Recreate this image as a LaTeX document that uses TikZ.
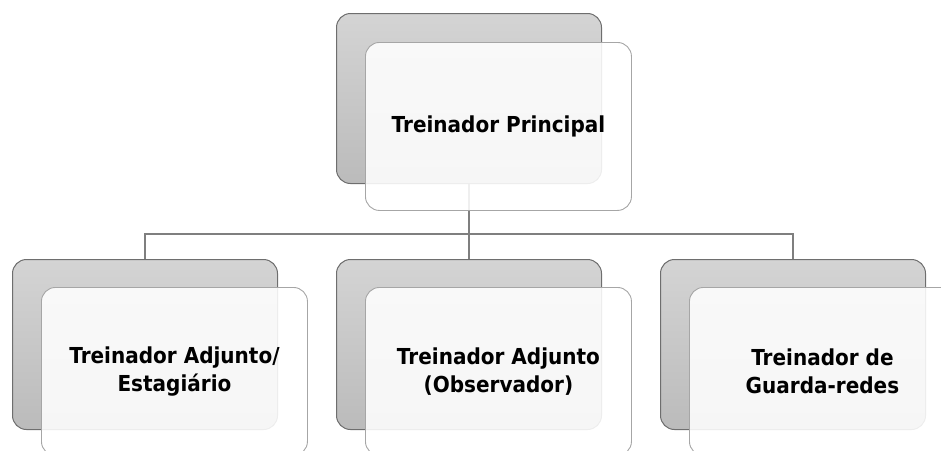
\documentclass[tikz,border=0pt]{standalone}
\usepackage{fontspec}
\setmainfont{DejaVu Sans}[FakeStretch=0.91]
\definecolor{backline}{HTML}{6E6E6E}
\definecolor{backtop}{HTML}{D4D4D4}
\definecolor{backbot}{HTML}{BBBBBB}
\definecolor{frontline}{HTML}{A6A6A6}
\definecolor{conn}{HTML}{7F7F7F}
\begin{document}
\begin{tikzpicture}[x=1pt,y=-1pt,
  backbox/.style={draw=backline,line width=1pt,rounded corners=14pt,
    top color=backtop,bottom color=backbot,minimum width=265pt,minimum height=170pt,
    inner sep=0pt,anchor=north west},
  frontbox/.style={draw=frontline,line width=0.9pt,rounded corners=14pt,
    fill=white,fill opacity=0.88,text opacity=1,minimum width=266pt,minimum height=168pt,
    inner sep=0pt,anchor=north west,align=center,
    font=\fontsize{22pt}{28pt}\selectfont\bfseries},
  connector/.style={draw=conn,line width=2pt}]
\useasboundingbox (0,0) rectangle (941,450);
\begin{scope}
\clip (0,0) rectangle (941,450);
% back boxes
\node[backbox] (b0) at (336,13) {};
\node[backbox] (b1) at (12,259) {};
\node[backbox] (b2) at (336,259) {};
\node[backbox] (b3) at (660,259) {};
% connectors
\draw[connector] (b0.south) -- (b0.south |- 0,234);
\draw[connector] (b1.north) -- (b1.north |- 0,234) -- (b3.north |- 0,234) -- (b3.north);
\draw[connector] (b2.north) -- (b2.north |- 0,234);
% front boxes
\node[frontbox] (f0) at (365,42) {Treinador Principal};
\node[frontbox] (f1) at (41,287) {Treinador Adjunto/\\Estagiário};
\node[frontbox] (f2) at (365,287) {Treinador Adjunto\\(Observador)};
\node[frontbox] (f3) at (689,287) {Treinador de\\Guarda-redes};
\end{scope}
\end{tikzpicture}
\end{document}
